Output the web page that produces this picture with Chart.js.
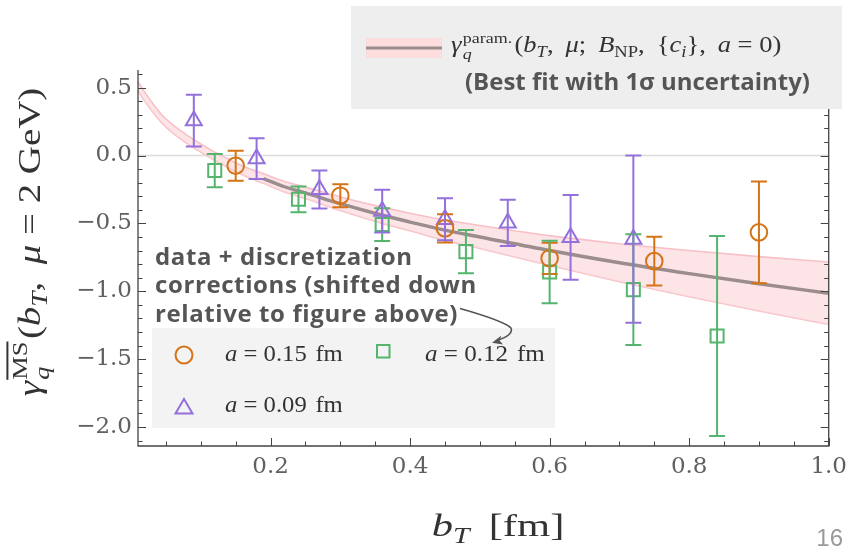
<!DOCTYPE html>
<html><head><meta charset="utf-8">
<script src="https://cdn.jsdelivr.net/npm/chart.js@4.4.1/dist/chart.umd.min.js"></script>
<style>
html,body{margin:0;padding:0;background:#fff;}
#wrap{position:relative;width:854px;height:549px;overflow:hidden;}
#c{position:absolute;left:0;top:0;}
.abs{position:absolute;white-space:nowrap;}
.fit{display:inline-block;white-space:nowrap;}
.math{font-family:"Liberation Serif",serif;color:#333;line-height:1.6;}
.bold{font-family:"Open Sans",sans-serif;font-weight:700;color:#555;}
.ss{display:inline-block;vertical-align:-0.42em;line-height:1.0;font-size:0.68em;text-align:left;margin-left:1px;margin-right:2px;}
.ss span{display:block;}
.sb{font-size:0.7em;vertical-align:-0.3em;line-height:0;}
.sp{margin:0 0.25em;}
.th{margin-right:0.2em;}
.box{position:absolute;}
</style></head>
<body><div id="wrap">
<canvas id="c" width="854" height="549"></canvas>

<div class="box" style="left:351px;top:6px;width:491px;height:103px;background:#eeeeee;"></div>
<div class="box" style="left:152px;top:328px;width:403px;height:100px;background:#f3f3f3;"></div>

<svg class="abs" style="left:0;top:0;" width="854" height="549">
  <rect x="366" y="38" width="76" height="20" fill="#fcdcdc"/>
  <line x1="366" y1="48" x2="442" y2="48" stroke="#9a8e8e" stroke-width="3.2"/>
  <circle cx="184" cy="355" r="8.5" fill="none" stroke="#d57317" stroke-width="2"/>
  <rect x="377" y="345" width="12.5" height="12.5" fill="none" stroke="#55b56e" stroke-width="2"/>
  <polygon points="184,399 192.5,413.5 175.5,413.5" fill="none" stroke="#9370db" stroke-width="2"/>
  <path d="M460,308.5 Q504,321 511,328 Q514,335 496,341" fill="none" stroke="#555" stroke-width="1.6"/>
  <path d="M492,342.8 L501.5,335.5 L499.5,340.5 L503,344.5 Z" fill="#555"/>
</svg>

<div class="abs math" style="left:451px;top:27px;font-size:23px;"><span class="fit" data-w="330"><i>γ</i><span class="ss"><span>param.</span><span><i>q</i></span></span>(<i>b</i><span class="sb"><i>T</i></span>,<span class="th"></span> <i>μ</i>;<span class="th"></span> <i>B</i><span class="sb">NP</span>,<span class="th"></span> {<i>c</i><span class="sb"><i>i</i></span>},<span class="th"></span> <i>a</i><span class="sp">=</span>0)</span></div>
<div class="abs bold" style="left:465px;top:62.7px;font-size:23px;line-height:1.6;"><span class="fit" data-w="345">(Best fit with 1σ uncertainty)</span></div>

<div class="abs bold" style="left:155px;top:241.5px;font-size:24px;line-height:28.5px;letter-spacing:0.6px;">data + discretization<br>corrections (shifted down<br>relative to figure above)</div>

<div class="abs math" style="left:225px;top:336px;font-size:23px;"><span class="fit" data-w="118"><i>a</i><span class="sp">=</span>0.15<span style="margin-left:0.35em">fm</span></span></div>
<div class="abs math" style="left:425px;top:336px;font-size:23px;"><span class="fit" data-w="120"><i>a</i><span class="sp">=</span>0.12<span style="margin-left:0.35em">fm</span></span></div>
<div class="abs math" style="left:225px;top:386.5px;font-size:23px;"><span class="fit" data-w="118"><i>a</i><span class="sp">=</span>0.09<span style="margin-left:0.35em">fm</span></span></div>

<div class="abs math" style="left:30px;top:242px;font-size:32px;transform:translate(-50%,-50%) rotate(-90deg);"><span class="fit" data-w="309" data-o="center"><i>γ</i><span class="ss"><span style="text-decoration:overline;">MS</span><span><i>q</i></span></span>(<i>b</i><span class="sb"><i>T</i></span>,<span class="th"></span> <i>μ</i><span class="sp">=</span>2 GeV)</span></div>
<div class="abs math" style="left:498px;top:500px;font-size:32px;transform:translateX(-50%);"><span class="fit" data-w="133" data-o="center"><i>b</i><span class="sb"><i>T</i></span><span style="margin-left:0.45em">[fm]</span></span></div>
<div class="abs" style="right:11px;top:526px;font-family:'Liberation Sans',sans-serif;font-size:24px;line-height:1;color:#9a9a9a;">16</div>
</div>
<script>
// ---- data ----
const xTicks = [0.2, 0.4, 0.6, 0.8, 1.0];
const yTicks = [0.5, 0.0, -0.5, -1.0, -1.5, -2.0];

const curveX    = [0.01,0.02,0.03,0.045,0.06,0.08,0.1,0.12,0.14,0.16,0.19,0.22,0.25,0.3,0.36,0.4,0.45,0.5,0.6,0.7,0.8,0.9,1.0];
const curveMid  = [0.51,0.43,0.36,0.265,0.195,0.12,0.055,-0.005,-0.06,-0.11,-0.17,-0.23,-0.275,-0.355,-0.44,-0.49,-0.55,-0.6,-0.7,-0.79,-0.87,-0.945,-1.015];
const curveHigh = [0.545,0.463,0.392,0.295,0.225,0.15,0.085,0.025,-0.028,-0.077,-0.135,-0.192,-0.233,-0.305,-0.38,-0.425,-0.475,-0.515,-0.59,-0.65,-0.70,-0.745,-0.785];
const curveLow  = [0.475,0.397,0.328,0.235,0.165,0.09,0.025,-0.035,-0.092,-0.143,-0.205,-0.268,-0.317,-0.405,-0.5,-0.555,-0.625,-0.685,-0.81,-0.93,-1.04,-1.145,-1.245];
const fitLineStart = 0.19;

const orangeX   = [0.15,0.30,0.45,0.60,0.75,0.90];
const orangeY   = [-0.075,-0.296,-0.537,-0.757,-0.778,-0.566];
const orangeErr = [0.11,0.085,0.104,0.115,0.18,0.375];

const greenX   = [0.12,0.24,0.36,0.48,0.60,0.72,0.84];
const greenY   = [-0.111,-0.323,-0.509,-0.708,-0.858,-0.988,-1.33];
const greenErr = [0.123,0.095,0.12,0.16,0.23,0.408,0.737];

const purpleX   = [0.09,0.18,0.27,0.36,0.45,0.54,0.63,0.72];
const purpleY   = [0.257,-0.023,-0.25,-0.41,-0.47,-0.496,-0.603,-0.616];
const purpleErr = [0.19,0.15,0.14,0.157,0.155,0.17,0.313,0.616];

const ORANGE = '#d57317', GREEN = '#55b56e', PURPLE = '#9370db';

const pts = (xs, ys) => xs.map((x, i) => ({x, y: ys[i]}));

const framePlugin = {
  id: 'frame',
  beforeDatasetsDraw(chart) {
    const {ctx, chartArea: a, scales: {y}} = chart;
    ctx.save();
    ctx.strokeStyle = '#dcdcdc'; ctx.lineWidth = 1.5;
    const y0 = y.getPixelForValue(0);
    ctx.beginPath(); ctx.moveTo(a.left, y0); ctx.lineTo(a.right, y0); ctx.stroke();
    ctx.restore();
  },
  afterDatasetsDraw(chart) {
    const {ctx, chartArea: a, scales: {x, y}} = chart;
    ctx.save();
    chart.data.datasets.forEach(ds => {
      if (!ds.errors) return;
      ctx.strokeStyle = ds.borderColor; ctx.lineWidth = 2;
      ds.data.forEach((p, i) => {
        const px = x.getPixelForValue(p.x);
        const yt = y.getPixelForValue(p.y + ds.errors[i]);
        const yb = y.getPixelForValue(p.y - ds.errors[i]);
        ctx.beginPath();
        ctx.moveTo(px, yt); ctx.lineTo(px, yb);
        ctx.moveTo(px - 8, yt); ctx.lineTo(px + 8, yt);
        ctx.moveTo(px - 8, yb); ctx.lineTo(px + 8, yb);
        ctx.stroke();
      });
    });
    ctx.strokeStyle = '#444'; ctx.lineWidth = 1.3;
    ctx.beginPath();
    ctx.moveTo(a.left, a.top); ctx.lineTo(a.left, a.bottom); ctx.lineTo(a.right, a.bottom); ctx.lineTo(a.right, a.top);
    ctx.stroke();
    ctx.lineWidth = 1;
    for (let k = 1; k <= 20; k++) {
      const v = k * 0.05;
      const major = Math.abs(v / 0.2 - Math.round(v / 0.2)) < 1e-6;
      const len = major ? 8 : 4.5;
      const px = Math.round(x.getPixelForValue(v)) + 0.5;
      ctx.beginPath(); ctx.moveTo(px, a.bottom); ctx.lineTo(px, a.bottom - len); ctx.stroke();
    }
    for (let k = -21; k <= 6; k++) {
      const v = k * 0.1;
      const major = k % 5 === 0;
      const len = major ? 8 : 4.5;
      const py = Math.round(y.getPixelForValue(v)) + 0.5;
      ctx.beginPath();
      ctx.moveTo(a.left, py); ctx.lineTo(a.left + len, py);
      ctx.moveTo(a.right, py); ctx.lineTo(a.right - len, py);
      ctx.stroke();
    }
    ctx.restore();
  }
};

const lineCommon = {showLine: true, pointRadius: 0, cubicInterpolationMode: 'monotone'};

new Chart(document.getElementById('c'), {
  type: 'scatter',
  data: {
    datasets: [
      {...lineCommon, order: 4, label: 'band low', data: pts(curveX, curveLow), borderColor: 'rgba(247,190,196,0.95)', borderWidth: 1.6, fill: false},
      {...lineCommon, order: 3, label: 'band high', data: pts(curveX, curveHigh), borderColor: 'rgba(247,190,196,0.95)', borderWidth: 1.6, fill: '-1', backgroundColor: 'rgba(252,212,215,0.6)'},
      {...lineCommon, order: 2, label: 'fit', data: pts(curveX, curveMid).filter(p => p.x >= fitLineStart), borderColor: 'rgba(150,136,136,0.95)', borderWidth: 3.4, fill: false},
      {order: 1, label: 'a = 0.15 fm', data: pts(orangeX, orangeY), errors: orangeErr, pointStyle: 'circle', pointRadius: 8.3, borderColor: ORANGE, borderWidth: 2, backgroundColor: 'rgba(0,0,0,0)'},
      {order: 1, label: 'a = 0.12 fm', data: pts(greenX, greenY), errors: greenErr, pointStyle: 'rect', pointRadius: 9.2, borderColor: GREEN, borderWidth: 2, backgroundColor: 'rgba(0,0,0,0)'},
      {order: 1, label: 'a = 0.09 fm', data: pts(purpleX, purpleY), errors: purpleErr, pointStyle: 'triangle', pointRadius: 9.2, borderColor: PURPLE, borderWidth: 2, backgroundColor: 'rgba(0,0,0,0)'}
    ]
  },
  options: {
    responsive: false, animation: false,
    layout: {padding: {left: 0, right: 22, top: 70, bottom: 0}},
    plugins: {legend: {display: false}, tooltip: {enabled: false}},
    scales: {
      x: {
        type: 'linear', min: 0.01, max: 1.0,
        grid: {display: false, drawTicks: false}, border: {display: false},
        ticks: {font: {family: 'DejaVu Serif', size: 23}, color: '#606060', padding: 7, callback: v => v.toFixed(1)},
        afterBuildTicks: s => { s.ticks = xTicks.map(v => ({value: v})); },
        afterFit: s => { s.height = 103; }
      },
      y: {
        type: 'linear', min: -2.14, max: 0.63,
        grid: {display: false, drawTicks: false}, border: {display: false},
        ticks: {font: {family: 'DejaVu Serif', size: 23}, color: '#606060', padding: 6,
                callback: v => (v < 0 ? '\u2212' : '') + Math.abs(v).toFixed(1)},
        afterBuildTicks: s => { s.ticks = yTicks.map(v => ({value: v})); },
        afterFit: s => { s.width = 138; }
      }
    }
  },
  plugins: [framePlugin]
});

function fitTexts() {
  document.querySelectorAll('.fit').forEach(el => {
    el.style.transform = 'none';
    const w = el.offsetWidth;
    const t = +el.dataset.w;
    if (w > 0 && t > 0) {
      el.style.transformOrigin = (el.dataset.o || 'left') + ' center';
      el.style.transform = 'scaleX(' + (t / w).toFixed(4) + ')';
    }
  });
}
fitTexts();
if (document.fonts && document.fonts.ready) document.fonts.ready.then(fitTexts);
</script>
</body></html>
